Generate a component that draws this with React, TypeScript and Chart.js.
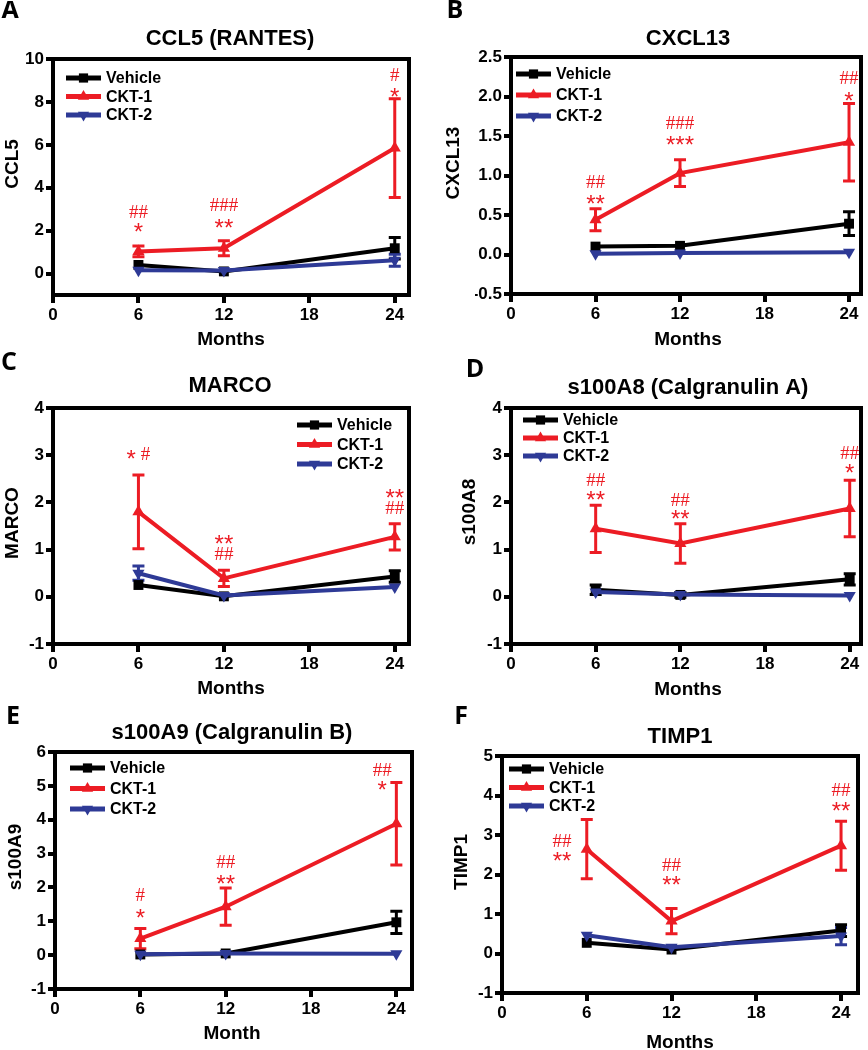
import React, { useEffect, useRef } from "react";
import { Chart, registerables } from "chart.js";

Chart.register(...registerables);

// ---------- shared ----------
const MONTHS = [6, 12, 24];
const X_TICKS = [0, 6, 12, 18, 24];
const SERIES = ["Vehicle", "CKT-1", "CKT-2"];
const COLORS = ["#000000", "#ec1c24", "#2e3a96"];
const POINT_STYLES = ["rect", "triangle", "triangle"];
const POINT_ROT = [0, 0, 180];
const DRAW_ORDER = [2, 0, 1];

// ---------- A: CCL5 (RANTES) ----------
const ccl5Vehicle = [0.4, 0.1, 1.18];
const ccl5VehicleSem = [0, 0, 0.5];
const ccl5Ckt1 = [1.03, 1.18, 5.85];
const ccl5Ckt1Sem = [0.25, 0.35, 2.3];
const ccl5Ckt2 = [0.15, 0.14, 0.62];
const ccl5Ckt2Sem = [0, 0, 0.28];
const ccl5YTicks = [0, 2, 4, 6, 8, 10];
const ccl5Marks = ["##", "*", "###", "**", "#", "*"];
const ccl5MarkX = [6, 6, 12, 12, 24, 24];
const ccl5MarkY = [2.9, 2.2, 3.2, 2.4, 9.3, 8.5];

// ---------- B: CXCL13 ----------
const cxcl13Vehicle = [0.1, 0.11, 0.39];
const cxcl13VehicleSem = [0, 0, 0.15];
const cxcl13Ckt1 = [0.44, 1.03, 1.42];
const cxcl13Ckt1Sem = [0.14, 0.17, 0.49];
const cxcl13Ckt2 = [0.01, 0.02, 0.03];
const cxcl13Ckt2Sem = [0, 0, 0];
const cxcl13YTicks = [-0.5, 0, 0.5, 1, 1.5, 2, 2.5];
const cxcl13Marks = ["##", "**", "###", "***", "##", "*"];
const cxcl13MarkX = [6, 6, 12, 12, 24, 24];
const cxcl13MarkY = [0.93, 0.71, 1.67, 1.46, 2.24, 2.01];

// ---------- C: MARCO ----------
const marcoVehicle = [0.25, 0.01, 0.43];
const marcoVehicleSem = [0, 0, 0.12];
const marcoCkt1 = [1.8, 0.39, 1.27];
const marcoCkt1Sem = [0.78, 0.17, 0.28];
const marcoCkt2 = [0.5, 0.03, 0.21];
const marcoCkt2Sem = [0.15, 0, 0];
const marcoYTicks = [-1, 0, 1, 2, 3, 4];
const marcoMarks = ["* #", "**", "##", "**", "##"];
const marcoMarkX = [6, 12, 12, 24, 24];
const marcoMarkY = [3.03, 1.23, 0.92, 2.22, 1.9];

// ---------- D: s100A8 ----------
const s100a8Vehicle = [0.15, 0.04, 0.37];
const s100a8VehicleSem = [0.1, 0.05, 0.12];
const s100a8Ckt1 = [1.44, 1.13, 1.87];
const s100a8Ckt1Sem = [0.5, 0.42, 0.6];
const s100a8Ckt2 = [0.1, 0.05, 0.03];
const s100a8Ckt2Sem = [0, 0, 0];
const s100a8YTicks = [-1, 0, 1, 2, 3, 4];
const s100a8Marks = ["##", "**", "##", "**", "##", "*"];
const s100a8MarkX = [6, 6, 12, 12, 24, 24];
const s100a8MarkY = [2.48, 2.17, 2.06, 1.77, 3.06, 2.75];

// ---------- E: s100A9 ----------
const s100a9Vehicle = [0.02, 0.05, 0.97];
const s100a9VehicleSem = [0, 0, 0.33];
const s100a9Ckt1 = [0.49, 1.43, 3.88];
const s100a9Ckt1Sem = [0.3, 0.55, 1.22];
const s100a9Ckt2 = [0.03, 0.05, 0.04];
const s100a9Ckt2Sem = [0, 0, 0];
const s100a9YTicks = [-1, 0, 1, 2, 3, 4, 5, 6];
const s100a9Marks = ["#", "*", "##", "**", "##", "*"];
const s100a9MarkX = [6, 6, 12, 12, 23, 23];
const s100a9MarkY = [1.78, 1.26, 2.77, 2.26, 5.47, 5.05];

// ---------- F: TIMP1 ----------
const timp1Vehicle = [0.27, 0.1, 0.58];
const timp1VehicleSem = [0, 0, 0.15];
const timp1Ckt1 = [2.64, 0.82, 2.73];
const timp1Ckt1Sem = [0.75, 0.32, 0.62];
const timp1Ckt2 = [0.46, 0.16, 0.44];
const timp1Ckt2Sem = [0, 0, 0.22];
const timp1YTicks = [-1, 0, 1, 2, 3, 4, 5];
const timp1Marks = ["##", "**", "##", "**", "##", "**"];
const timp1MarkX = [4.25, 4.25, 12, 12, 24, 24];
const timp1MarkY = [2.86, 2.49, 2.26, 1.88, 4.15, 3.75];

// ---------- layout / styling ----------
const SANS = "'Liberation Sans', Arial, sans-serif";
const Y_W = 36;
const X_H = 36;
const PAD_V = 58;

type Panel = any;

const PANELS: Panel[] = [
  {
    letter: "A", title: "CCL5 (RANTES)", yLabel: "CCL5", xLabel: "Months",
    values: [ccl5Vehicle, ccl5Ckt1, ccl5Ckt2], sems: [ccl5VehicleSem, ccl5Ckt1Sem, ccl5Ckt2Sem],
    yMin: -1, yMax: 10, yTicks: ccl5YTicks, decimals: 0, xMax: 25,
    marks: ccl5Marks, markX: ccl5MarkX, markY: ccl5MarkY,
    col: 0, box: { l: 53, t: 59, r: 409, b: 295 }, legend: { x: 66, y: 78, gap: 18.5 },
    titleAt: [230, 39], letterAt: [10, 11], yLabelAt: [13, 164], xLabelAt: [231, 340],
  },
  {
    letter: "B", title: "CXCL13", yLabel: "CXCL13", xLabel: "Months",
    values: [cxcl13Vehicle, cxcl13Ckt1, cxcl13Ckt2], sems: [cxcl13VehicleSem, cxcl13Ckt1Sem, cxcl13Ckt2Sem],
    yMin: -0.5, yMax: 2.5, yTicks: cxcl13YTicks, decimals: 1, xMax: 24.85,
    marks: cxcl13Marks, markX: cxcl13MarkX, markY: cxcl13MarkY,
    col: 1, box: { l: 511, t: 57, r: 863, b: 294 }, legend: { x: 516, y: 74, gap: 21 },
    titleAt: [688, 39], letterAt: [455, 11], yLabelAt: [454, 163], xLabelAt: [688, 340],
  },
  {
    letter: "C", title: "MARCO", yLabel: "MARCO", xLabel: "Months",
    values: [marcoVehicle, marcoCkt1, marcoCkt2], sems: [marcoVehicleSem, marcoCkt1Sem, marcoCkt2Sem],
    yMin: -1, yMax: 4, yTicks: marcoYTicks, decimals: 0, xMax: 25,
    marks: marcoMarks, markX: marcoMarkX, markY: marcoMarkY,
    col: 0, box: { l: 53, t: 408, r: 409, b: 644 }, legend: { x: 297, y: 425, gap: 19.5 },
    titleAt: [230, 386], letterAt: [9, 363], yLabelAt: [13, 523], xLabelAt: [231, 689],
  },
  {
    letter: "D", title: "s100A8 (Calgranulin A)", yLabel: "s100A8", xLabel: "Months",
    values: [s100a8Vehicle, s100a8Ckt1, s100a8Ckt2], sems: [s100a8VehicleSem, s100a8Ckt1Sem, s100a8Ckt2Sem],
    yMin: -1, yMax: 4, yTicks: s100a8YTicks, decimals: 0, xMax: 24.8,
    marks: s100a8Marks, markX: s100a8MarkX, markY: s100a8MarkY,
    col: 1, box: { l: 511, t: 408, r: 862, b: 644 }, legend: { x: 523, y: 420, gap: 18 },
    titleAt: [688, 388], letterAt: [475, 370], yLabelAt: [470, 512], xLabelAt: [688, 690],
  },
  {
    letter: "E", title: "s100A9 (Calgranulin B)", yLabel: "s100A9", xLabel: "Month",
    values: [s100a9Vehicle, s100a9Ckt1, s100a9Ckt2], sems: [s100a9VehicleSem, s100a9Ckt1Sem, s100a9Ckt2Sem],
    yMin: -1, yMax: 6, yTicks: s100a9YTicks, decimals: 0, xMax: 25.1,
    marks: s100a9Marks, markX: s100a9MarkX, markY: s100a9MarkY,
    col: 0, box: { l: 55, t: 752, r: 412, b: 989 }, legend: { x: 70, y: 768, gap: 20.5 },
    titleAt: [232, 733], letterAt: [13, 717], yLabelAt: [16, 857], xLabelAt: [232, 1034],
  },
  {
    letter: "F", title: "TIMP1", yLabel: "TIMP1", xLabel: "Months",
    values: [timp1Vehicle, timp1Ckt1, timp1Ckt2], sems: [timp1VehicleSem, timp1Ckt1Sem, timp1Ckt2Sem],
    yMin: -1, yMax: 5, yTicks: timp1YTicks, decimals: 0, xMax: 25.2,
    marks: timp1Marks, markX: timp1MarkX, markY: timp1MarkY,
    col: 1, box: { l: 502, t: 756, r: 858, b: 993 }, legend: { x: 509, y: 769, gap: 18.5 },
    titleAt: [680, 737], letterAt: [461, 717], yLabelAt: [462, 862], xLabelAt: [680, 1043],
  },
];

function drawMarker(ctx: CanvasRenderingContext2D, style: string, x: number, y: number, r: number, rot: number) {
  ctx.beginPath();
  if (style === "rect") {
    const s = r * Math.SQRT1_2;
    ctx.rect(x - s, y - s, 2 * s, 2 * s);
  } else {
    const d = rot ? -1 : 1;
    ctx.moveTo(x, y - d * r);
    ctx.lineTo(x - r * 0.866, y + d * r * 0.5);
    ctx.lineTo(x + r * 0.866, y + d * r * 0.5);
    ctx.closePath();
  }
  ctx.fill();
}

function drawMark(ctx: CanvasRenderingContext2D, text: string, cx: number, cy: number) {
  const runs: string[] = text.match(/(\*+|#+| +)/g) || [];
  const fontFor = (r: string) =>
    r[0] === "#" ? "19px 'Liberation Serif', serif" : r[0] === "*" ? `24px ${SANS}` : `18px ${SANS}`;
  let total = 0;
  const widths = runs.map((r) => {
    ctx.font = fontFor(r);
    const w = ctx.measureText(r).width;
    total += w;
    return w;
  });
  let x = cx - total / 2;
  ctx.textAlign = "left";
  ctx.textBaseline = "alphabetic";
  runs.forEach((r, i) => {
    ctx.font = fontFor(r);
    const base = r[0] === "#" ? cy + 6.5 : cy + 13.5;
    if (r[0] !== " ") ctx.fillText(r, x, base);
    x += widths[i];
  });
}

function makeDecor(p: Panel, offX: number, offY: number) {
  return {
    id: "decor",
    beforeDatasetsDraw(chart: any) {
      const ctx = chart.ctx;
      const xs = chart.scales.x;
      const ys = chart.scales.y;
      ctx.save();
      ctx.lineWidth = 3;
      p.values.forEach((vals: number[], si: number) => {
        ctx.strokeStyle = COLORS[si];
        vals.forEach((v, j) => {
          const e = p.sems[si][j];
          if (!e) return;
          const x = xs.getPixelForValue(MONTHS[j]);
          const y1 = ys.getPixelForValue(v + e);
          const y2 = ys.getPixelForValue(v - e);
          ctx.beginPath();
          ctx.moveTo(x, y1);
          ctx.lineTo(x, y2);
          ctx.moveTo(x - 6, y1);
          ctx.lineTo(x + 6, y1);
          ctx.moveTo(x - 6, y2);
          ctx.lineTo(x + 6, y2);
          ctx.stroke();
        });
      });
      ctx.restore();
    },
    afterDraw(chart: any) {
      const ctx = chart.ctx;
      const ca = chart.chartArea;
      const xs = chart.scales.x;
      const ys = chart.scales.y;
      ctx.save();
      // frame
      ctx.strokeStyle = "#000";
      ctx.lineWidth = 4;
      ctx.strokeRect(ca.left, ca.top, ca.right - ca.left, ca.bottom - ca.top);

      // significance marks
      ctx.fillStyle = COLORS[1];
      p.marks.forEach((m: string, i: number) => {
        drawMark(ctx, m, xs.getPixelForValue(p.markX[i]), ys.getPixelForValue(p.markY[i]));
      });

      // legend
      SERIES.forEach((name, i) => {
        const lx = p.legend.x - offX;
        const ly = p.legend.y + i * p.legend.gap - offY;
        ctx.strokeStyle = COLORS[i];
        ctx.fillStyle = COLORS[i];
        ctx.lineWidth = 5;
        ctx.beginPath();
        ctx.moveTo(lx, ly);
        ctx.lineTo(lx + 35, ly);
        ctx.stroke();
        drawMarker(ctx, POINT_STYLES[i], lx + 17.5, ly, 6.5, POINT_ROT[i]);
        ctx.fillStyle = "#000";
        ctx.font = `bold 16px ${SANS}`;
        ctx.textAlign = "left";
        ctx.textBaseline = "middle";
        ctx.fillText(name, lx + 40, ly + 1);
      });

      ctx.fillStyle = "#000";
      ctx.textAlign = "center";
      ctx.textBaseline = "middle";
      // title
      ctx.font = `bold 22px ${SANS}`;
      ctx.fillText(p.title, p.titleAt[0] - offX, p.titleAt[1] - offY);
      // x label
      ctx.font = `bold 19px ${SANS}`;
      ctx.fillText(p.xLabel, p.xLabelAt[0] - offX, p.xLabelAt[1] - offY);
      // y label
      ctx.save();
      ctx.translate(p.yLabelAt[0] - offX, p.yLabelAt[1] - offY);
      ctx.rotate(-Math.PI / 2);
      ctx.fillText(p.yLabel, 0, 0);
      ctx.restore();
      // panel letter
      ctx.font = `bold 25px 'Open Sans', ${SANS}`;
      ctx.fillText(p.letter, p.letterAt[0] - offX, p.letterAt[1] - offY);
      ctx.restore();
    },
  };
}

function PanelChart({ p }: { p: Panel }) {
  const ref = useRef<HTMLCanvasElement | null>(null);
  const colLeft = p.col * 434;
  const top = p.box.t - PAD_V;
  const width = 434;
  const height = p.box.b - p.box.t + 2 * PAD_V;

  useEffect(() => {
    if (!ref.current) return;
    const tickFont = { family: SANS, size: 17, weight: "bold" as const };
    const chart = new Chart(ref.current, {
      type: "line",
      data: {
        datasets: SERIES.map((name, si) => ({
          label: name,
          data: MONTHS.map((m, j) => ({ x: m, y: p.values[si][j] })),
          borderColor: COLORS[si],
          backgroundColor: COLORS[si],
          borderWidth: 4,
          pointStyle: POINT_STYLES[si] as any,
          pointRotation: POINT_ROT[si],
          pointRadius: 7,
          pointBorderWidth: 0,
          tension: 0,
          order: DRAW_ORDER[si],
          clip: false as any,
        })),
      },
      options: {
        responsive: false,
        animation: false,
        devicePixelRatio: 1,
        layout: {
          padding: {
            left: p.box.l - colLeft - Y_W,
            right: colLeft + width - p.box.r,
            top: PAD_V,
            bottom: PAD_V - X_H,
          },
        },
        plugins: { legend: { display: false }, tooltip: { enabled: false }, title: { display: false } },
        scales: {
          x: {
            type: "linear",
            min: 0,
            max: p.xMax,
            afterBuildTicks: (s: any) => {
              s.ticks = X_TICKS.map((v) => ({ value: v }));
            },
            afterFit: (s: any) => {
              s.height = X_H;
            },
            ticks: { font: tickFont, color: "#000", padding: 2, maxRotation: 0, callback: (v: any) => String(v) },
            grid: { display: true, drawOnChartArea: false, drawTicks: true, tickLength: 8, lineWidth: 4, color: "#000" },
            border: { display: false },
          },
          y: {
            type: "linear",
            min: p.yMin,
            max: p.yMax,
            afterBuildTicks: (s: any) => {
              s.ticks = p.yTicks.map((v: number) => ({ value: v }));
            },
            afterFit: (s: any) => {
              s.width = Y_W;
            },
            ticks: {
              font: tickFont,
              color: "#000",
              padding: 2,
              callback: (v: any) => Number(v).toFixed(p.decimals),
            },
            grid: { display: true, drawOnChartArea: false, drawTicks: true, tickLength: 7, lineWidth: 4, color: "#000" },
            border: { display: false },
          },
        },
      },
      plugins: [makeDecor(p, colLeft, top)],
    } as any);
    return () => chart.destroy();
  }, []);

  return (
    <canvas
      ref={ref}
      width={width}
      height={height}
      style={{ position: "absolute", left: colLeft, top, width, height }}
    />
  );
}

export default function App() {
  return (
    <div style={{ position: "absolute", left: 0, top: 0, width: 868, height: 1050, background: "#fff", overflow: "hidden" }}>
      {PANELS.map((p) => (
        <PanelChart key={p.letter} p={p} />
      ))}
    </div>
  );
}
